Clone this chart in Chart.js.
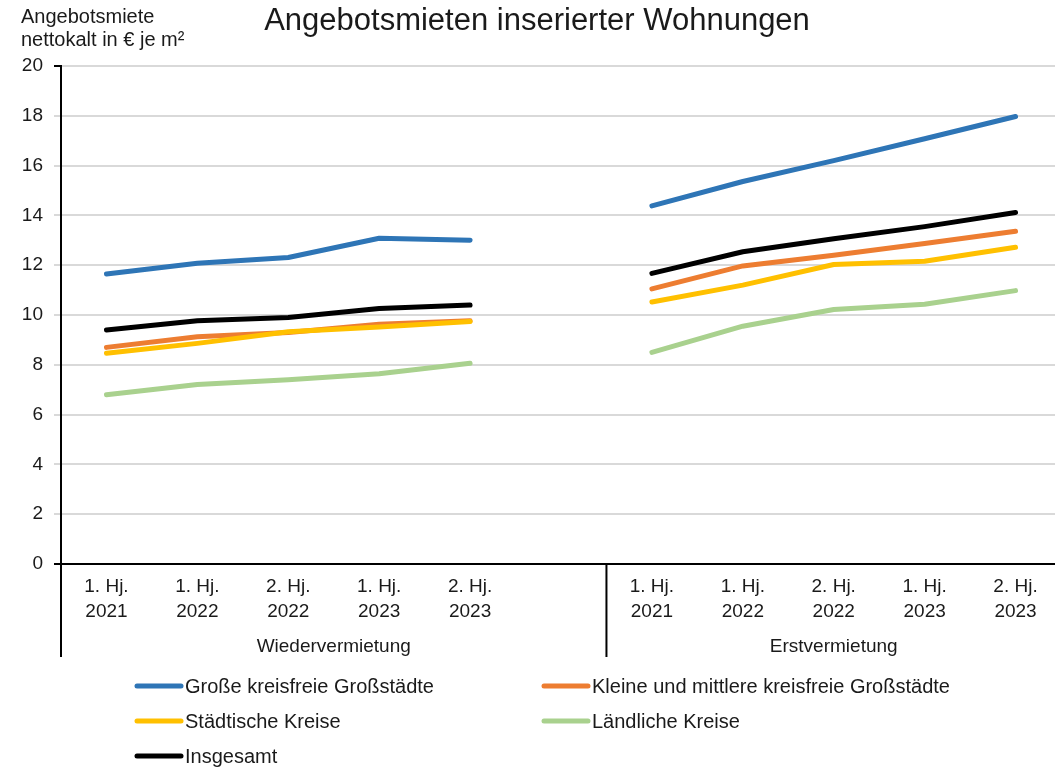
<!DOCTYPE html>
<html lang="de">
<head>
<meta charset="utf-8">
<title>Angebotsmieten inserierter Wohnungen</title>
<script src="https://cdn.jsdelivr.net/npm/chart.js@4.4.1/dist/chart.umd.min.js"></script>
<style>
  html, body { margin: 0; padding: 0; background: #fff; overflow: hidden; }
  #wrap { width: 1055px; height: 767px; overflow: hidden; }
  #box { width: 1061px; height: 767px; }
</style>
</head>
<body>
<div id="wrap"><div id="box"><canvas id="chart"></canvas></div></div>
<script>
// Data
const halfYears = [['1. Hj.', '2021'], ['1. Hj.', '2022'], ['2. Hj.', '2022'], ['1. Hj.', '2023'], ['2. Hj.', '2023']];
const groups = ['Wiedervermietung', 'Erstvermietung'];

const seriesNames = [
  'Große kreisfreie Großstädte',
  'Kleine und mittlere kreisfreie Großstädte',
  'Städtische Kreise',
  'Ländliche Kreise',
  'Insgesamt',
];
const seriesColors = ['#2e75b6', '#ed7d31', '#ffc000', '#a9d18e', '#000000'];

// Wiedervermietung
const grosseWieder = [11.65, 12.08, 12.31, 13.08, 13.0];
const kleineWieder = [8.7, 9.13, 9.3, 9.63, 9.77];
const staedtWieder = [8.46, 8.86, 9.33, 9.52, 9.74];
const laendWieder = [6.8, 7.21, 7.4, 7.64, 8.06];
const gesamtWieder = [9.4, 9.77, 9.9, 10.26, 10.4];

// Erstvermietung
const grosseErst = [14.38, 15.36, 16.2, 17.08, 17.97];
const kleineErst = [11.05, 11.97, 12.4, 12.87, 13.36];
const staedtErst = [10.52, 11.2, 12.03, 12.16, 12.72];
const laendErst = [8.5, 9.55, 10.22, 10.43, 10.98];
const gesamtErst = [11.67, 12.54, 13.06, 13.55, 14.12];

const yTicks = [0, 2, 4, 6, 8, 10, 12, 14, 16, 18, 20];

// 11 slots: 5 Wieder, 1 gap, 5 Erst
const labels = [...halfYears.map(h => h.join(' ')), '', ...halfYears.map(h => h.join(' '))];
const joined = (a, b) => [...a, null, ...b];
const seriesData = [
  joined(grosseWieder, grosseErst),
  joined(kleineWieder, kleineErst),
  joined(staedtWieder, staedtErst),
  joined(laendWieder, laendErst),
  joined(gesamtWieder, gesamtErst),
];
const drawOrder = [5, 4, 3, 2, 1];

const FONT = '"Liberation Sans", Arial, sans-serif';
const TEXT = '#1a1a1a';

// Title, category labels, group frames and legend
const decorations = {
  id: 'decorations',
  afterDraw(chart) {
    const ctx = chart.ctx;
    const area = chart.chartArea;
    const x = chart.scales.x;
    ctx.save();
    ctx.fillStyle = TEXT;

    ctx.font = '31px ' + FONT;
    ctx.textAlign = 'center';
    ctx.textBaseline = 'middle';
    ctx.fillText('Angebotsmieten inserierter Wohnungen', 537, 21);

    ctx.font = '20px ' + FONT;
    ctx.textAlign = 'left';
    ctx.fillText('Angebotsmiete', 21, 17);
    ctx.fillText('nettokalt in € je m²', 21, 40);

    // half-year labels
    ctx.font = '19px ' + FONT;
    ctx.textAlign = 'center';
    ctx.textBaseline = 'alphabetic';
    const slotLabels = [...halfYears, null, ...halfYears];
    slotLabels.forEach((lab, i) => {
      if (!lab) return;
      const px = x.getPixelForValue(i);
      ctx.fillText(lab[0], px, 592);
      ctx.fillText(lab[1], px, 617);
    });

    // group frames
    const divider = (x.getPixelForValue(5) + x.getPixelForValue(6)) / 2;
    ctx.strokeStyle = '#000';
    ctx.lineWidth = 2;
    ctx.beginPath();
    ctx.moveTo(area.left, area.bottom);
    ctx.lineTo(area.left, 657);
    ctx.moveTo(divider, area.bottom);
    ctx.lineTo(divider, 657);
    ctx.stroke();
    ctx.fillText(groups[0], (area.left + divider) / 2, 652);
    ctx.fillText(groups[1], (divider + area.right) / 2, 652);

    // legend
    const cols = [135, 542];
    const rows = [686, 721, 756];
    ctx.font = '20px ' + FONT;
    ctx.textAlign = 'left';
    ctx.textBaseline = 'middle';
    ctx.lineCap = 'round';
    seriesNames.forEach((name, i) => {
      const lx = cols[i % 2];
      const ly = rows[Math.floor(i / 2)];
      ctx.strokeStyle = seriesColors[i];
      ctx.lineWidth = 5;
      ctx.beginPath();
      ctx.moveTo(lx + 2, ly);
      ctx.lineTo(lx + 46, ly);
      ctx.stroke();
      ctx.fillStyle = TEXT;
      ctx.fillText(name, lx + 50, ly + 1);
    });
    ctx.restore();
  },
};

new Chart(document.getElementById('chart'), {
  type: 'line',
  data: {
    labels: labels,
    datasets: seriesNames.map((name, i) => ({
      label: name,
      data: seriesData[i],
      borderColor: seriesColors[i],
      backgroundColor: seriesColors[i],
      borderWidth: 5,
      borderCapStyle: 'round',
      borderJoinStyle: 'round',
      pointRadius: 0,
      tension: 0,
      spanGaps: false,
      order: drawOrder[i],
    })),
  },
  options: {
    responsive: true,
    maintainAspectRatio: false,
    animation: false,
    layout: { padding: { top: 66, right: 0, bottom: 0, left: 0 } },
    plugins: {
      legend: { display: false },
      title: { display: false },
      tooltip: { enabled: false },
    },
    scales: {
      x: {
        offset: true,
        grid: { display: false },
        border: { display: true, color: '#000', width: 2 },
        ticks: { display: false },
        afterFit(scale) { scale.height = 203; },
      },
      y: {
        min: 0,
        max: 20,
        afterBuildTicks(scale) { scale.ticks = yTicks.map(v => ({ value: v })); },
        ticks: {
          font: { family: FONT, size: 19 },
          color: TEXT,
          padding: 11,
        },
        grid: {
          color: (c) => (c.tick && c.tick.value === 0 ? 'rgba(0,0,0,0)' : '#d9d9d9'),
          lineWidth: 2,
          tickLength: 7,
          tickColor: (c) => (c.tick && (c.tick.value === 0 || c.tick.value === 20) ? '#000' : '#d9d9d9'),
        },
        border: { display: true, color: '#000', width: 2 },
        afterFit(scale) { scale.width = 61; },
      },
    },
  },
  plugins: [decorations],
});
</script>
</body>
</html>
